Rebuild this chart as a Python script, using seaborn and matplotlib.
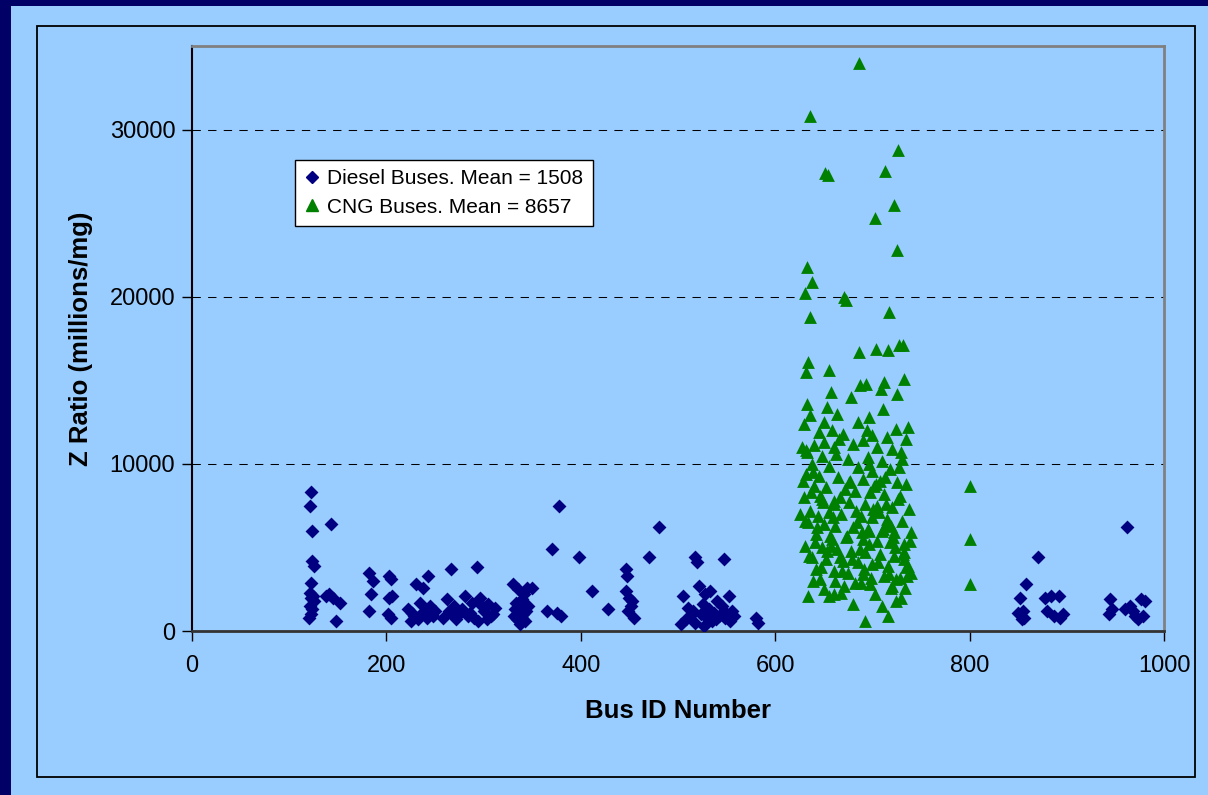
import numpy as np
import pandas as pd
import matplotlib
matplotlib.use('Agg')
import matplotlib.pyplot as plt
from matplotlib.patches import Rectangle
from matplotlib.lines import Line2D
import seaborn as sns

# Diesel buses: bus id and Z ratio
diesel_id = [122, 121, 123, 123, 125, 122, 121, 124, 122, 125, 121, 123, 122, 120,
             143, 138, 141, 145, 152, 148,
             182, 186, 184, 182, 203, 205, 206, 203, 202, 205,
             222, 226, 230, 238, 243, 235, 240, 228, 232, 245, 248, 236, 250, 225, 242,
             262, 266, 270, 275, 281, 288, 293, 296, 300, 305, 310, 258, 264, 272, 278,
             284, 290, 298, 303, 308, 268, 286, 294, 312,
             330, 335, 342, 345, 333, 338, 340, 332, 336, 344, 331, 334, 339, 341, 337,
             343, 346, 350,
             370, 378, 365, 375, 380, 398, 412, 428, 447, 448, 446, 450, 453, 449, 455, 452,
             470, 480,
             505, 510, 517, 520, 522, 528, 533, 540, 547, 552, 556, 508, 512, 515, 518,
             524, 526, 530, 532, 535, 537, 539, 542, 545, 548, 550, 553, 558, 503, 527,
             580, 582,
             858, 852, 855, 850, 856, 854, 870, 878, 884, 892, 880, 887, 893, 896,
             944, 946, 943, 962, 965, 968, 970, 973, 976, 980, 978, 960]
diesel_z = [8300, 7500, 6000, 4200, 3900, 2900, 2300, 2100, 2000, 1800, 1500, 1300, 1000, 800,
            6400, 2100, 2200, 2000, 1700, 600,
            3500, 3000, 2200, 1200, 3300, 3100, 2100, 2000, 1000, 800,
            1300, 1100, 2800, 2600, 3300, 1700, 1200, 900, 700, 1500, 900, 1000, 1200, 600, 800,
            1900, 3700, 1500, 1000, 2100, 1700, 3800, 2000, 1200, 1600, 1000, 800, 1200, 700, 1300,
            900, 800, 1500, 700, 900, 1000, 1100, 600, 1400,
            2800, 2500, 2200, 2600, 1700, 1500, 1900, 1300, 1100, 1200, 900, 700, 800, 1000, 400,
            600, 1500, 2600,
            4900, 7500, 1200, 1100, 900, 4400, 2400, 1300, 3700, 3300, 2400, 2000, 1800, 1200, 800, 1500,
            4400, 6200,
            2100, 1400, 4400, 4100, 2700, 2200, 2400, 1800, 4300, 2100, 1200, 700, 900, 1200, 500,
            1000, 1600, 800, 1300, 600, 1100, 700, 900, 1500, 800, 1000, 600, 900, 400, 300,
            800, 500,
            2800, 2000, 1200, 1100, 800, 700, 4400, 2000, 2100, 2100, 1200, 900, 800, 1000,
            1900, 1300, 1000, 6200, 1500, 1200, 900, 700, 1900, 1800, 900, 1300]

# CNG buses: bus id and Z ratio
cng_id = [686, 636, 726, 651, 654, 713, 722, 703, 725, 633, 638, 631, 671, 673, 717, 636,
          727, 731, 704, 716, 686, 634, 632, 655, 733, 712, 693, 687, 657, 725, 633, 653,
          711, 664, 636, 696, 685, 737, 724, 630, 645, 670, 700, 715, 650, 690, 735, 640,
          660, 680, 705, 720, 633, 648, 675, 695, 710, 730, 638, 655, 685, 700, 718, 632,
          645, 665, 690, 708, 725, 735, 640, 652, 672, 682, 698, 712, 728, 630, 648, 660,
          676, 692, 705, 720, 738, 636, 655, 668, 688, 700, 715, 730, 634, 650, 662, 680,
          695, 710, 722, 740, 642, 656, 673, 690, 705, 718, 732, 631, 648, 664, 678, 692,
          708, 722, 638, 652, 670, 685, 700, 716, 735, 642, 660, 675, 690, 712, 728, 646,
          662, 682, 698, 720, 734, 650, 668, 703, 655, 634, 729, 724, 710, 680, 692, 716,
          660, 740, 737, 626, 628, 629, 631, 639, 643, 646, 658, 663, 667, 677, 683, 689,
          697, 702, 707, 714, 719, 723, 727, 731, 736, 650, 666, 678, 694, 709, 729,
          635, 641, 647, 653, 659, 669, 674, 679, 684, 691, 696, 701, 706, 711, 717, 721,
          726, 732, 637, 644, 657, 661, 671, 687, 699, 713, 733, 739, 639, 649, 667, 688,
          704, 714, 724, 632, 658, 676, 697, 719,
          800, 800, 800]
cng_z = [34000, 30800, 28800, 27400, 27300, 27500, 25500, 24700, 22800, 21800, 20900, 20200,
         20000, 19800, 19100, 18800, 17100, 17100, 16900, 16800, 16700, 16100, 15500, 15600,
         15100, 14900, 14800, 14700, 14300, 14200, 13600, 13400, 13300, 13000, 12900, 12800,
         12500, 12200, 12100, 12400, 11900, 11800, 11700, 11600, 11300, 11400, 11500, 11100,
         11000, 11200, 11000, 10900, 10700, 10500, 10300, 10400, 10200, 10300, 10000, 9900,
         9800, 9600, 9700, 9400, 9300, 9200, 9100, 9000, 8900, 8800, 8700, 8600,
         8500, 8400, 8300, 8200, 8100, 8000, 7900, 7800, 7700, 7600, 7500, 7400,
         7300, 7200, 7100, 7000, 6900, 6800, 6700, 6600, 6500, 6400, 6300, 6200,
         6100, 6000, 5900, 5900, 5800, 5700, 5600, 5500, 5400, 5300, 5200, 5100,
         5000, 4900, 4800, 4700, 4600, 4500, 4400, 4300, 4200, 4100, 4000, 3900,
         3800, 3700, 3600, 3500, 3400, 3300, 3200, 3100, 3000, 2900, 2800, 2700,
         2600, 2500, 2300, 2200, 2100, 2100, 2000, 1800, 1500, 1600, 600, 900,
         2200, 3500, 3900, 7000, 11000, 9000, 6600, 9500, 6200, 8100, 12000, 10600,
         8000, 9000, 7200, 5900, 10000, 8700, 7100, 7600, 6300, 5000, 9800, 4600,
         3300, 12500, 11500, 14000, 12000, 14500, 10700,
         4500, 5300, 3800, 4800, 6800, 3600, 5700, 4300, 6500, 3700, 5200, 7300,
         4100, 6100, 3400, 5600, 7900, 4300, 8300, 6900, 5100, 7600, 2700, 4900,
         3200, 9200, 4700, 5400, 3000, 7700, 4400, 2900, 8800, 6400, 3100, 10800,
         5500, 8900, 6000, 2600,
         8700, 5500, 2800]

legend_labels = ['Diesel Buses. Mean = 1508', 'CNG Buses. Mean = 8657']
x_ticks = [0, 200, 400, 600, 800, 1000]
y_ticks = [0, 10000, 20000, 30000]

diesel = pd.DataFrame({'bus_id': diesel_id, 'z': diesel_z})
cng = pd.DataFrame({'bus_id': cng_id, 'z': cng_z})

sns.set_style('white')
plt.rcParams['font.family'] = ['Liberation Sans', 'DejaVu Sans']
plt.rcParams['text.color'] = 'black'
plt.rcParams['axes.labelcolor'] = 'black'
plt.rcParams['xtick.color'] = 'black'
plt.rcParams['ytick.color'] = 'black'

bg = '#99CCFF'
navy = '#000080'
green = '#008000'

fig = plt.figure(figsize=(12.08, 7.95), dpi=100, facecolor=bg)
W, H = 1208, 795

# navy frame strips on left and top
fig.patches.append(Rectangle((0, 0), 11 / W, 1, transform=fig.transFigure,
                             facecolor='#000066', edgecolor='none', zorder=0))
fig.patches.append(Rectangle((0, 1 - 6 / H), 1, 6 / H, transform=fig.transFigure,
                             facecolor='#000066', edgecolor='none', zorder=0))
# chart area border
fig.patches.append(Rectangle((37 / W, 1 - 777 / H), (1195 - 37) / W, (777 - 26) / H,
                             transform=fig.transFigure, facecolor='none',
                             edgecolor='black', linewidth=1.3, zorder=1))

ax = fig.add_axes([192 / W, 1 - 631 / H, (1164 - 192) / W, (631 - 46) / H])
ax.set_facecolor(bg)

sns.scatterplot(data=diesel, x='bus_id', y='z', marker='D', color=navy, s=50,
                linewidth=0, ax=ax, zorder=3)
sns.scatterplot(data=cng, x='bus_id', y='z', marker='^', color=green, s=85,
                linewidth=0, ax=ax, zorder=3)

ax.set_xlim(0, 1000)
ax.set_ylim(0, 35000)
ax.set_xticks(x_ticks)
ax.set_yticks(y_ticks)
ax.tick_params(axis='both', labelsize=17, direction='out', length=7, width=1,
               color='black', labelcolor='black', left=True, bottom=True)
ax.tick_params(axis='x', pad=10)
ax.tick_params(axis='y', pad=5)

for yv in y_ticks[1:]:
    ax.axhline(yv, color='black', linewidth=0.75, linestyle=(0, (8, 7)), zorder=1)

for side in ['top', 'right']:
    ax.spines[side].set_color('#808080')
    ax.spines[side].set_linewidth(2)
ax.spines['left'].set_color('black')
ax.spines['left'].set_linewidth(1.5)
ax.spines['bottom'].set_color('#333333')
ax.spines['bottom'].set_linewidth(2)

ax.set_xlabel('Bus ID Number', fontsize=18.5, fontweight='bold', labelpad=16)
ax.set_ylabel('Z Ratio (millions/mg)', fontsize=18.5, fontweight='bold', labelpad=12)

handles = [Line2D([], [], marker='D', color=navy, linestyle='none', markersize=6),
           Line2D([], [], marker='^', color=green, linestyle='none', markersize=8)]
leg = ax.legend(handles, legend_labels, loc='upper left',
                bbox_to_anchor=(103 / 972, 1 - 114 / 585), fontsize=15,
                frameon=True, fancybox=False, framealpha=1, edgecolor='black',
                handlelength=0.7, handletextpad=0.4, borderpad=0.45, labelspacing=0.45,
                borderaxespad=0)
leg.get_frame().set_linewidth(1)

fig.savefig('out.png', dpi=100, facecolor=bg)
